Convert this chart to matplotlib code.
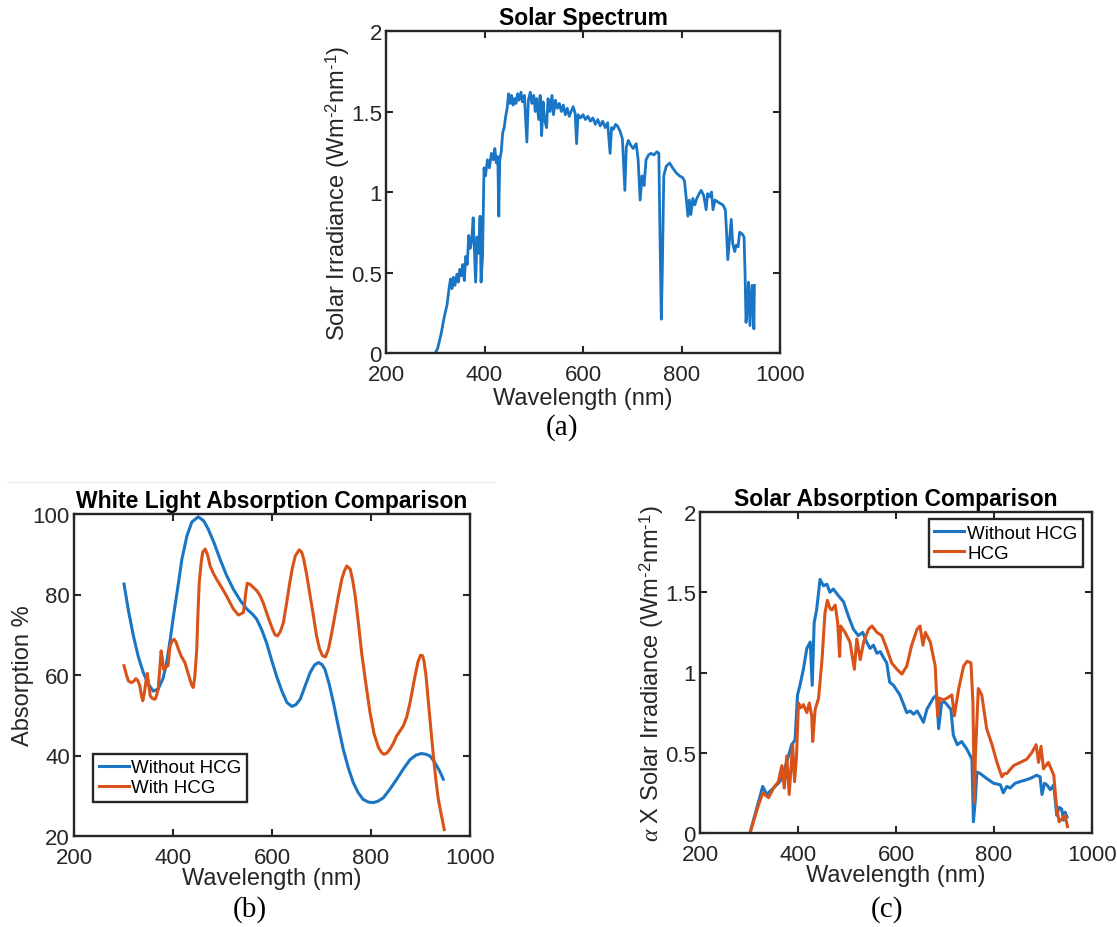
import numpy as np
import matplotlib
matplotlib.use('Agg')
import matplotlib.pyplot as plt
from matplotlib.lines import Line2D

plt.rcParams['font.family'] = ['Liberation Sans', 'DejaVu Sans']
plt.rcParams['mathtext.fontset'] = 'custom'
plt.rcParams['mathtext.rm'] = 'Liberation Sans'
plt.rcParams['mathtext.it'] = 'Liberation Serif:italic'

blue = '#1a76c4'
orange = '#d95319'
dark = '#262626'

# ---- (a) solar spectrum ----
sun_wl = [300, 305, 312, 318, 324, 328, 331, 334, 337, 340, 344, 347, 350, 353, 356,
          359, 362, 365, 368, 371, 374, 377, 380, 382, 385, 388, 391, 393, 396, 399,
          402, 406, 410, 414, 418, 421, 424, 427, 429, 431, 434, 437, 440, 443, 446,
          449, 452, 455, 458, 461, 464, 467, 470, 474, 477, 481, 486, 489, 493, 496,
          500, 503, 506, 510, 513, 516, 519, 522, 526, 529, 533, 537, 540, 544, 548,
          552, 556, 560, 564, 568, 572, 576, 580, 584, 587, 590, 595, 600, 605, 610,
          615, 620, 625, 630, 635, 640, 645, 650, 655, 658, 662, 666, 670, 675, 680,
          685, 688, 692, 697, 702, 708, 712, 716, 720, 724, 728, 733, 738, 744, 750,
          754, 756, 759, 761, 764, 769, 776, 782, 789, 796, 802, 806, 810, 813, 816,
          819, 823, 827, 831, 836, 840, 845, 850, 853, 857, 861, 864, 868, 873, 878,
          884, 889, 891, 894, 898, 901, 904, 908, 911, 915, 918, 923, 927, 929, 931,
          934, 936, 939, 941, 943, 945, 947, 948]
sun_val = [0.00, 0.03, 0.12, 0.22, 0.30, 0.40, 0.46, 0.40, 0.47, 0.42, 0.49, 0.44, 0.52, 0.48, 0.55,
           0.45, 0.60, 0.55, 0.73, 0.65, 0.70, 0.84, 0.60, 0.44, 0.72, 0.62, 0.85, 0.44, 0.60, 1.15,
           1.10, 1.20, 1.15, 1.24, 1.20, 1.27, 1.18, 1.22, 0.85, 1.20, 1.25, 1.37, 1.40, 1.47, 1.52,
           1.61, 1.55, 1.60, 1.54, 1.58, 1.55, 1.61, 1.57, 1.62, 1.56, 1.60, 1.31, 1.57, 1.62, 1.55,
           1.60, 1.50, 1.58, 1.45, 1.60, 1.35, 1.56, 1.45, 1.40, 1.58, 1.50, 1.60, 1.48, 1.57, 1.52,
           1.55, 1.50, 1.54, 1.48, 1.52, 1.47, 1.50, 1.53, 1.49, 1.30, 1.48, 1.46, 1.48, 1.45, 1.47,
           1.44, 1.46, 1.42, 1.45, 1.41, 1.44, 1.40, 1.43, 1.24, 1.40, 1.39, 1.42, 1.41, 1.38, 1.33,
           1.01, 1.28, 1.32, 1.29, 1.27, 1.30, 1.20, 0.95, 1.10, 1.04, 1.20, 1.23, 1.24, 1.23, 1.25,
           1.24, 0.80, 0.21, 0.50, 1.10, 1.16, 1.18, 1.15, 1.12, 1.10, 1.09, 1.07, 0.95, 0.85, 0.95,
           0.86, 0.96, 0.92, 0.96, 0.99, 1.01, 0.98, 0.89, 0.99, 0.97, 1.00, 0.89, 0.95, 0.94, 0.93,
           0.92, 0.89, 0.78, 0.58, 0.72, 0.83, 0.68, 0.63, 0.67, 0.66, 0.75, 0.74, 0.72, 0.50, 0.19,
           0.30, 0.44, 0.17, 0.30, 0.42, 0.28, 0.15, 0.42]

# ---- (b) white light absorption (%) ----
wl_b_no = [301, 310, 320, 330, 340, 350, 360, 370, 380, 387, 394, 401, 410, 418, 428,
           438, 451, 462, 471, 483, 495, 508, 522, 536, 549, 560, 569, 579, 589, 599,
           609, 620, 630, 640, 648, 657, 667, 677, 686, 694, 701, 707, 715, 724, 734,
           744, 754, 764, 774, 784, 795, 805, 815, 825, 838, 852, 865, 879, 891, 902,
           911, 919, 926, 933, 940, 946]
abs_b_no = [82.6, 76.0, 69.7, 64.5, 60.6, 57.8, 56.0, 56.5, 59.2, 63.0, 68.5, 74.7, 82.0, 88.8, 94.5,
            98.0, 99.3, 98.3, 96.3, 92.8, 88.8, 84.8, 81.3, 78.5, 76.4, 75.2, 73.9, 71.3, 68.0, 63.8,
            59.8, 56.0, 53.2, 52.2, 52.6, 54.0, 57.3, 60.6, 62.5, 63.1, 62.6, 61.4, 58.0, 53.2, 47.2,
            41.5, 37.0, 33.3, 30.8, 29.1, 28.4, 28.3, 28.7, 29.5, 31.6, 34.1, 36.6, 39.0, 40.1, 40.5,
            40.3, 39.9, 38.8, 37.4, 35.8, 34.1]
wl_b_hcg = [301, 306, 310, 316, 321, 325, 329, 333, 336, 339, 342, 345, 348, 351, 354,
            359, 364, 367, 370, 373, 376, 378, 381, 386, 390, 394, 398, 402, 406, 411,
            417, 424, 429, 434, 438, 441, 444, 448, 450, 453, 457, 460, 465, 470, 475,
            481, 488, 498, 508, 515, 522, 532, 542, 545, 547, 550, 556, 562, 569, 576,
            582, 589, 595, 601, 606, 611, 617, 623, 629, 636, 641, 647, 655, 660, 664,
            670, 677, 684, 690, 696, 702, 708, 714, 720, 727, 734, 741, 746, 751, 758,
            763, 768, 774, 781, 790, 798, 806, 815, 821, 826, 832, 838, 845, 852, 858,
            865, 872, 879, 884, 889, 895, 900, 904, 907, 911, 916, 921, 926, 931, 936,
            942, 948]
abs_b_hcg = [62.3, 60.0, 58.5, 58.1, 58.5, 59.1, 58.6, 57.3, 55.0, 53.6, 55.5, 58.1, 60.4, 57.5, 54.8,
             54.1, 54.0, 55.0, 56.5, 61.0, 66.0, 64.5, 61.4, 62.0, 62.3, 67.2, 68.4, 68.9, 68.2, 66.4,
             64.6, 63.1, 61.0, 59.0, 57.4, 56.9, 59.5, 66.4, 74.0, 83.0, 88.0, 90.5, 91.3, 89.8, 87.1,
             85.4, 83.8, 81.8, 79.7, 78.0, 76.4, 74.9, 75.5, 78.0, 80.5, 82.8, 82.5, 81.8, 81.0, 79.7,
             78.0, 75.5, 73.4, 71.4, 70.0, 69.7, 70.8, 73.0, 77.5, 83.0, 86.5, 89.6, 91.1, 90.5, 88.8,
             85.0, 79.7, 74.5, 69.7, 66.5, 64.8, 64.5, 66.4, 70.0, 74.7, 79.5, 83.8, 85.8, 87.1, 86.3,
             83.5, 79.7, 73.5, 65.6, 57.5, 50.7, 45.5, 42.0, 40.8, 40.3, 40.6, 41.5, 43.0, 44.9, 46.0,
             47.3, 49.5, 53.2, 56.5, 59.8, 63.3, 64.9, 64.8, 63.5, 60.0, 53.2, 46.5, 39.9, 34.0, 29.1,
             25.3, 21.6]

# ---- (c) absorption x solar irradiance ----
wl_c_no = [302, 319, 328, 336, 350, 363, 377, 387, 394, 399, 404, 411, 418, 425, 429,
           433, 438, 445, 452, 459, 465, 472, 482, 493, 503, 513, 523, 532, 540, 547,
           554, 561, 568, 575, 581, 587, 595, 608, 622, 629, 636, 643, 649, 656, 663,
           676, 683, 687, 693, 698, 704, 712, 717, 725, 734, 745, 755, 758, 762, 765,
           772, 785, 799, 813, 819, 826, 833, 843, 853, 864, 874, 887, 894, 898, 903,
           908, 915, 922, 928, 933, 938, 942, 945, 949]
val_c_no = [0.00, 0.19, 0.29, 0.24, 0.28, 0.32, 0.44, 0.55, 0.58, 0.86, 0.92, 1.02, 1.15, 1.19, 0.92,
            1.31, 1.39, 1.58, 1.54, 1.55, 1.50, 1.52, 1.48, 1.44, 1.35, 1.27, 1.23, 1.25, 1.19, 1.15,
            1.17, 1.12, 1.13, 1.09, 1.06, 0.94, 0.92, 0.86, 0.75, 0.76, 0.74, 0.76, 0.73, 0.69, 0.77,
            0.84, 0.86, 0.65, 0.81, 0.82, 0.80, 0.77, 0.61, 0.55, 0.57, 0.52, 0.46, 0.07, 0.21, 0.38,
            0.37, 0.34, 0.31, 0.30, 0.25, 0.29, 0.28, 0.31, 0.32, 0.33, 0.34, 0.36, 0.35, 0.24, 0.31,
            0.30, 0.27, 0.30, 0.11, 0.16, 0.15, 0.08, 0.13, 0.10]
wl_c_hcg = [302, 319, 328, 340, 350, 360, 367, 372, 377, 382, 389, 393, 397, 401, 406,
            411, 418, 423, 428, 430, 435, 442, 449, 455, 460, 465, 469, 476, 481, 485,
            487, 496, 506, 515, 520, 527, 534, 544, 551, 561, 571, 581, 591, 602, 612,
            622, 632, 643, 649, 655, 660, 670, 680, 685, 689, 697, 704, 714, 719, 728,
            738, 745, 753, 757, 760, 762, 768, 775, 785, 796, 806, 816, 821, 826, 840,
            854, 867, 877, 886, 891, 896, 901, 911, 922, 928, 933, 939, 945, 950]
val_c_hcg = [0.00, 0.17, 0.25, 0.22, 0.28, 0.32, 0.42, 0.28, 0.48, 0.24, 0.55, 0.32, 0.48, 0.81, 0.78,
             0.80, 0.75, 0.81, 0.73, 0.57, 0.77, 0.84, 1.08, 1.37, 1.45, 1.40, 1.39, 1.42, 1.31, 1.10,
             1.29, 1.25, 1.19, 1.02, 1.21, 1.08, 1.19, 1.27, 1.29, 1.25, 1.23, 1.15, 1.06, 1.02, 0.99,
             1.04, 1.17, 1.27, 1.29, 1.17, 1.25, 1.19, 1.04, 0.73, 0.84, 0.83, 0.84, 0.86, 0.73, 0.90,
             1.04, 1.07, 1.06, 0.81, 0.19, 0.48, 0.90, 0.86, 0.65, 0.55, 0.44, 0.35, 0.37, 0.37, 0.42,
             0.44, 0.46, 0.50, 0.55, 0.44, 0.54, 0.40, 0.44, 0.36, 0.15, 0.07, 0.09, 0.11, 0.04]

xticks = [200, 400, 600, 800, 1000]
irr_ticks = [0, 0.5, 1, 1.5, 2]
irr_ticklabels = ['0', '0.5', '1', '1.5', '2']
abs_ticks = [20, 40, 60, 80, 100]

irr_unit = r'(Wm$^{\text{-}2}$nm$^{\text{-}1}$)'


def style(ax):
    for s in ax.spines.values():
        s.set_linewidth(1.7)
        s.set_color(dark)
    ax.tick_params(direction='in', top=True, right=True, length=5, width=1.5,
                   colors=dark, labelsize=16)
    ax.tick_params(axis='y', pad=3)
    ax.tick_params(axis='x', pad=8)


fig = plt.figure(figsize=(11.17, 9.28), dpi=100)

# (a)
ax = fig.add_axes([386 / 1117, 1 - 354 / 928, 394 / 1117, 322 / 928])
ax.plot(sun_wl, sun_val, color=blue, lw=2.0)
ax.set_xlim(200, 1000)
ax.set_ylim(0, 2)
ax.set_xticks(xticks)
ax.set_yticks(irr_ticks)
ax.set_yticklabels(irr_ticklabels)
style(ax)
ax.set_title('Solar Spectrum', fontsize=16.5, fontweight='bold', pad=5)
ax.set_xlabel('Wavelength (nm)', fontsize=17, color=dark, labelpad=1)
ax.set_ylabel('Solar Irradiance ' + irr_unit, fontsize=17, color=dark, labelpad=-1)

# (b)
ax = fig.add_axes([74 / 1117, 1 - 837 / 928, 396 / 1117, 322 / 928])
ax.plot(wl_b_no, abs_b_no, color=blue, lw=2.2, label='Without HCG')
ax.plot(wl_b_hcg, abs_b_hcg, color=orange, lw=2.2, label='With HCG')
ax.set_xlim(200, 1000)
ax.set_ylim(20, 100)
ax.set_xticks(xticks)
ax.set_yticks(abs_ticks)
style(ax)
ax.set_title('White Light Absorption Comparison', fontsize=16.5, fontweight='bold', pad=5)
ax.set_xlabel('Wavelength (nm)', fontsize=17, color=dark, labelpad=-1)
ax.set_ylabel('Absorption %', fontsize=17, color=dark, labelpad=-1)
leg = ax.legend(loc='lower left', bbox_to_anchor=(0.048, 0.106), fontsize=13.5,
                fancybox=False, framealpha=1, edgecolor=dark, handlelength=1.6,
                handletextpad=0.15, borderpad=0.3, labelspacing=0.15, borderaxespad=0)
leg.get_frame().set_linewidth(1.7)

# (c)
ax = fig.add_axes([700 / 1117, 1 - 834 / 928, 392 / 1117, 321 / 928])
ax.plot(wl_c_no, val_c_no, color=blue, lw=2.2, label='Without HCG')
ax.plot(wl_c_hcg, val_c_hcg, color=orange, lw=2.2, label='HCG')
ax.set_xlim(200, 1000)
ax.set_ylim(0, 2)
ax.set_xticks(xticks)
ax.set_yticks(irr_ticks)
ax.set_yticklabels(irr_ticklabels)
style(ax)
ax.set_title('Solar Absorption Comparison', fontsize=16.5, fontweight='bold', pad=5)
ax.set_xlabel('Wavelength (nm)', fontsize=17, color=dark, labelpad=-1)
ax.set_ylabel(r'$\alpha$ X Solar Irradiance ' + irr_unit, fontsize=17, color=dark, labelpad=-1)
leg = ax.legend(loc='upper right', bbox_to_anchor=(0.977, 0.978), fontsize=13.5,
                fancybox=False, framealpha=1, edgecolor=dark, handlelength=1.6,
                handletextpad=0.15, borderpad=0.3, labelspacing=0.15, borderaxespad=0)
leg.get_frame().set_linewidth(1.7)

# faint separator line above (b)
fig.add_artist(Line2D([7 / 1117, 495 / 1117], [1 - 483 / 928] * 2, color='#eeeeee', lw=1))

# sub-figure captions
for x, y, s in [(562, 428, '(a)'), (250, 910, '(b)'), (887, 910, '(c)')]:
    fig.text(x / 1117, 1 - y / 928, s, ha='center', va='center', fontsize=21,
             family='Liberation Serif')

fig.savefig('out.png', dpi=100)
